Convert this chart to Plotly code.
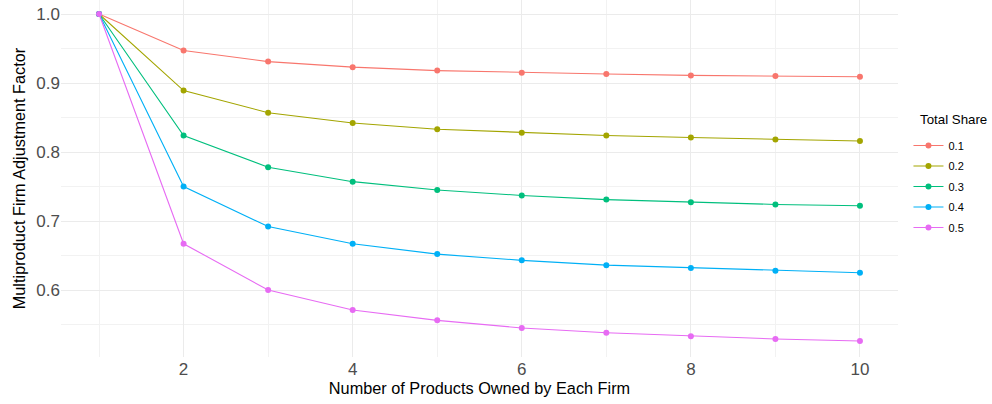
import plotly.graph_objects as go

products = [1, 2, 3, 4, 5, 6, 7, 8, 9, 10]
shares = ["0.1", "0.2", "0.3", "0.4", "0.5"]
factor_01 = [1.000, 0.947, 0.931, 0.923, 0.918, 0.915, 0.913, 0.911, 0.910, 0.909]
factor_02 = [1.000, 0.889, 0.857, 0.842, 0.833, 0.828, 0.824, 0.821, 0.818, 0.816]
factor_03 = [1.000, 0.824, 0.778, 0.757, 0.745, 0.737, 0.731, 0.727, 0.724, 0.722]
factor_04 = [1.000, 0.750, 0.692, 0.667, 0.652, 0.643, 0.636, 0.632, 0.628, 0.625]
factor_05 = [1.000, 0.667, 0.600, 0.571, 0.556, 0.545, 0.538, 0.533, 0.529, 0.526]
series = [factor_01, factor_02, factor_03, factor_04, factor_05]
colors = ["#F8766D", "#A3A500", "#00BF7D", "#00B0F6", "#E76BF3"]

fig = go.Figure()
for name, vals, c in zip(shares, series, colors):
    fig.add_trace(go.Scatter(
        x=products, y=vals, name=name, legendgroup=name, mode="lines+markers",
        line=dict(color=c, width=1.1),
        marker=dict(color=c, size=6),
    ))

font = "Liberation Sans, Arial, sans-serif"
fig.update_layout(
    width=992, height=404,
    margin=dict(l=61, r=94, t=0, b=47, autoexpand=False),
    plot_bgcolor="white", paper_bgcolor="white",
    font=dict(family=font, color="black"),
    legend=dict(
        font=dict(size=11, color="black"),
        x=1.0125, xanchor="left", y=0.633, yanchor="top",
        tracegroupgap=1.5, itemwidth=30,
    ),
    showlegend=True,
    annotations=[dict(
        text="Total Share", xref="paper", yref="paper", x=1.0, xshift=20, y=(357 - 119) / 357,
        xanchor="left", yanchor="middle", showarrow=False,
        font=dict(size=13.3, color="black"),
    )],
)
fig.update_xaxes(
    range=[0.55, 10.45], tickvals=[2, 4, 6, 8, 10],
    showgrid=True, gridcolor="#EBEBEB", gridwidth=1.1,
    minor=dict(tickvals=[1, 3, 5, 7, 9], showgrid=True, gridcolor="#F2F2F2", gridwidth=0.6),
    zeroline=False, showline=False, ticks="", automargin=False,
    tickfont=dict(size=17, color="#4D4D4D"),
    title=dict(text="Number of Products Owned by Each Firm", font=dict(size=16.3, color="black"), standoff=1),
)
fig.update_yaxes(
    range=[0.5029, 1.0203], tickvals=[0.6, 0.7, 0.8, 0.9, 1.0], ticktext=["0.6", "0.7", "0.8", "0.9", "1.0"],
    showgrid=True, gridcolor="#EBEBEB", gridwidth=1.1,
    minor=dict(tickvals=[0.55, 0.65, 0.75, 0.85, 0.95], showgrid=True, gridcolor="#F2F2F2", gridwidth=0.6),
    zeroline=False, showline=False, ticks="", automargin=False,
    tickfont=dict(size=17, color="#4D4D4D"),
    title=dict(text="Multiproduct Firm Adjustment Factor", font=dict(size=16.3, color="black"), standoff=6),
)
fig.write_html("out.html", config={"displayModeBar": False},
               post_script="document.body.style.margin='0';")
